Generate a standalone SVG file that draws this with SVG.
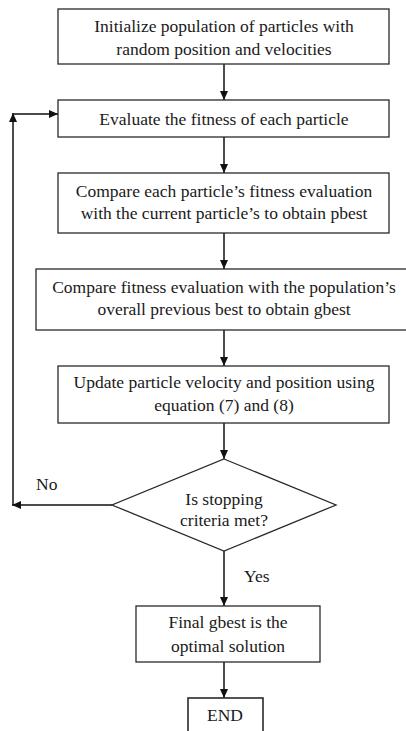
<svg xmlns="http://www.w3.org/2000/svg" width="406" height="731" viewBox="0 0 406 731">
<defs>
<marker id="ah" markerWidth="10" markerHeight="8" refX="9" refY="4" orient="auto" markerUnits="userSpaceOnUse">
<path d="M0,0 L9,4 L0,8 Z" fill="#111"/>
</marker>
<style>
.box{fill:#fff;stroke:#2a2a2a;stroke-width:1.3}
.t{font-family:"Liberation Serif","Times New Roman",serif;font-size:17.5px;fill:#1a1a1a;text-anchor:middle}
.l{font-family:"Liberation Serif","Times New Roman",serif;font-size:17.5px;fill:#1a1a1a}
.c{fill:none;stroke:#111;stroke-width:1.5;marker-end:url(#ah)}
</style>
</defs>
<rect width="406" height="731" fill="#fff"/>
<g id="connectors">
<line class="c" x1="224" y1="64" x2="224" y2="100"/>
<line class="c" x1="224" y1="137" x2="224" y2="173"/>
<line class="c" x1="224" y1="233" x2="224" y2="269"/>
<line class="c" x1="224" y1="330" x2="224" y2="366"/>
<line class="c" x1="224" y1="423" x2="224" y2="459"/>
<line class="c" x1="224" y1="551" x2="224" y2="606"/>
<line class="c" x1="224" y1="662" x2="224" y2="698"/>
<line class="c" x1="112" y1="505" x2="12" y2="505"/>
<line class="c" x1="13" y1="505" x2="13" y2="113"/>
<line class="c" x1="13" y1="114" x2="58" y2="114"/>
<text class="l" x="36" y="490">No</text>
<text class="l" x="244" y="582">Yes</text>
</g>
<g id="init">
<rect class="box" x="58" y="9" width="331" height="55"/>
<text class="t" x="224" y="32">Initialize population of particles with</text>
<text class="t" x="224" y="55">random position and velocities</text>
</g>
<g id="evaluate">
<rect class="box" x="58" y="100" width="331" height="37"/>
<text class="t" x="224" y="125">Evaluate the fitness of each particle</text>
</g>
<g id="pbest">
<rect class="box" x="58" y="173" width="331" height="60"/>
<text class="t" x="224" y="197">Compare each particle’s fitness evaluation</text>
<text class="t" x="224" y="219">with the current particle’s to obtain pbest</text>
</g>
<g id="gbest">
<rect class="box" x="36" y="269" width="376" height="61"/>
<text class="t" x="224" y="293">Compare fitness evaluation with the population’s</text>
<text class="t" x="224" y="315">overall previous best to obtain gbest</text>
</g>
<g id="update">
<rect class="box" x="58" y="366" width="331" height="57"/>
<text class="t" x="224" y="388">Update particle velocity and position using</text>
<text class="t" x="224" y="411">equation (7) and (8)</text>
</g>
<g id="decision">
<polygon class="box" points="224,459 336,505 224,551 112,505"/>
<text class="t" x="224" y="505">Is stopping</text>
<text class="t" x="224" y="526">criteria met?</text>
</g>
<g id="final">
<rect class="box" x="136" y="606" width="184" height="56"/>
<text class="t" x="228" y="628">Final gbest is the</text>
<text class="t" x="228" y="652">optimal solution</text>
</g>
<g id="end">
<rect class="box" x="188" y="698" width="75" height="45" style="stroke-width:1.6"/>
<text class="t" x="225" y="721">END</text>
</g>
</svg>
